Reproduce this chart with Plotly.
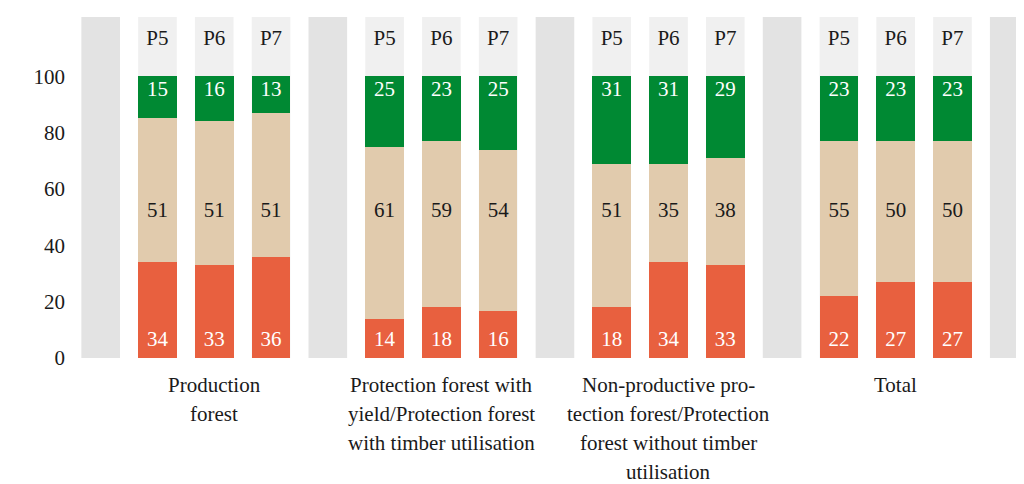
import plotly.graph_objects as go

groups = ["Production forest",
          "Protection forest with yield/Protection forest with timber utilisation",
          "Non-productive protection forest/Protection forest without timber utilisation",
          "Total"]
group_label_lines = [
    ["Production", "forest"],
    ["Protection forest with", "yield/Protection forest", "with timber utilisation"],
    ["Non-productive pro-", "tection forest/Protection", "forest without timber", "utilisation"],
    ["Total"],
]
periods = ["P5", "P6", "P7"]

red_vals = [34, 33, 36, 14, 18, 16, 18, 34, 33, 22, 27, 27]
beige_vals = [51, 51, 51, 61, 59, 54, 51, 35, 38, 55, 50, 50]
green_vals = [15, 16, 13, 25, 23, 25, 31, 31, 29, 23, 23, 23]

y_ticks = [0, 20, 40, 60, 80, 100]

# style
RED = "#e8603f"
BEIGE = "#e1cbad"
GREEN = "#008933"
LIGHT = "#f0f0f0"
DARK = "#e3e3e3"
FONT = "Liberation Serif, DejaVu Serif, serif"
FS = 21
BW = 0.68
YTOP = 121

xs = [4 * g + i for g in range(len(groups)) for i in range(len(periods))]
seps = [4 * g - 1 for g in range(len(groups) + 1)]

fig = go.Figure()
for vals, col in [(red_vals, RED), (beige_vals, BEIGE), (green_vals, GREEN)]:
    fig.add_trace(go.Bar(x=xs, y=vals, marker=dict(color=col, line=dict(width=0)),
                         width=BW, hoverinfo="skip", showlegend=False))

# labels at fixed heights
for vals, ypos, col in [(red_vals, 6, "white"), (beige_vals, 52, "#1a1a1a"), (green_vals, 95, "white")]:
    fig.add_trace(go.Scatter(x=xs, y=[ypos] * len(xs), mode="text", text=[str(v) for v in vals],
                             textfont=dict(family=FONT, size=FS, color=col),
                             hoverinfo="skip", showlegend=False))
# period labels
fig.add_trace(go.Scatter(x=xs, y=[112.8] * len(xs), mode="text",
                         text=[periods[i % 3] for i in range(len(xs))],
                         textfont=dict(family=FONT, size=FS, color="#1a1a1a"),
                         hoverinfo="skip", showlegend=False))

shapes = []
for x in xs:
    shapes.append(dict(type="rect", xref="x", yref="y", x0=x - BW / 2, x1=x + BW / 2, y0=0, y1=YTOP,
                       fillcolor=LIGHT, line=dict(width=0), layer="below"))
for x in seps:
    shapes.append(dict(type="rect", xref="x", yref="y", x0=x - BW / 2, x1=x + BW / 2, y0=0, y1=YTOP,
                       fillcolor=DARK, line=dict(width=0), layer="below"))

annotations = []
for g, lines in enumerate(group_label_lines):
    for k, line in enumerate(lines):
        annotations.append(dict(x=4 * g + 1, xref="x", y=0, yref="paper", text=line, showarrow=False,
                                yanchor="middle", xanchor="center", yshift=-27 - 29 * k,
                                font=dict(family=FONT, size=FS, color="#1a1a1a")))

# page body has an 8px margin: the figure is sized/offset to compensate
fig.update_layout(
    barmode="stack", barnorm="percent",
    width=1016, height=476,
    margin=dict(l=72, r=0, t=9, b=126),
    paper_bgcolor="white", plot_bgcolor="white",
    font=dict(family=FONT),
    shapes=shapes, annotations=annotations,
    xaxis=dict(range=[-1.364, 15.26], showticklabels=False, showgrid=False, zeroline=False,
               showline=False, ticks=""),
    yaxis=dict(range=[0, YTOP], tickvals=y_ticks, showgrid=False, zeroline=False, showline=False,
               ticks="", ticklabelstandoff=14,
               tickfont=dict(family=FONT, size=FS, color="#1a1a1a")),
)

fig.write_html("out.html")
